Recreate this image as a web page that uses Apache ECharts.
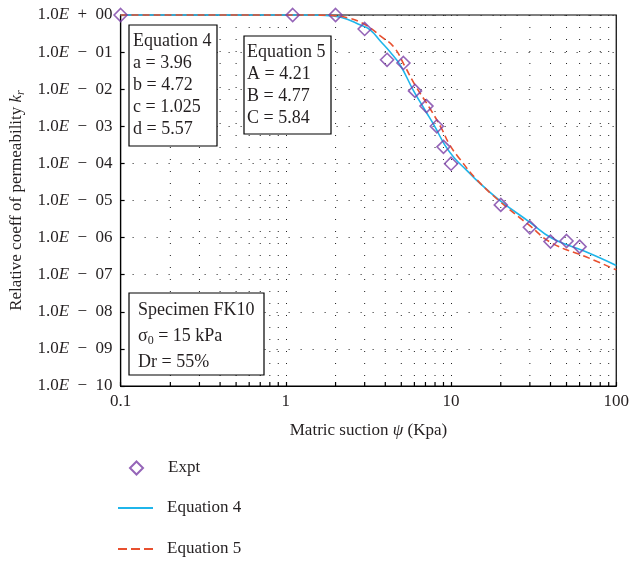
<!DOCTYPE html>
<html><head><meta charset="utf-8">
<script src="https://cdn.jsdelivr.net/npm/echarts@6/dist/echarts.min.js"></script>
<style>html,body{margin:0;padding:0;background:#fff}#c{width:632px;height:561px}</style>
</head><body><div id="c"></div>
<script>
// Experimental data
const exptX = [0.1, 1.1, 2, 3, 4.1, 5.15, 6.05, 7.1, 8.2, 9.0, 10.0, 20, 30, 40, 50, 60];
const exptY = [1, 1, 1, 0.42, 0.062, 0.051, 0.0090, 0.0035, 0.00100, 0.00028, 0.000098, 7.6e-6, 1.9e-6, 7.8e-7, 8.1e-7, 5.7e-7];
// Equation 4 curve
const eq4X = [0.1, 1, 1.24, 1.63, 2.15, 2.83, 3.25, 3.73, 4.28, 4.92, 5.90, 6.95, 7.98, 9.16, 10.5, 12.4, 14.2, 19.6, 29.6, 40.8, 64.9, 100];
const eq4Y = [1, 1, 1, 0.98, 0.867, 0.537, 0.394, 0.199, 0.1007, 0.0449, 0.0095, 0.00275, 9.8e-4, 3.16e-4, 1.38e-4, 6.6e-5, 3.6e-5, 1.03e-5, 2.7e-6, 9.6e-7, 4.2e-7, 1.78e-7];
// Equation 5 curve
const eq5X = [0.1, 1, 1.24, 1.87, 2.47, 2.83, 3.25, 3.73, 4.49, 5.27, 6.05, 7.44, 8.75, 9.81, 11.3, 14.2, 19.6, 29.6, 40.8, 64.9, 100];
const eq5Y = [1, 1, 1, 0.97, 0.805, 0.636, 0.447, 0.272, 0.140, 0.0404, 0.0130, 0.00306, 8.8e-4, 3.16e-4, 1.32e-4, 3.8e-5, 9.7e-6, 2.19e-6, 7.1e-7, 3.1e-7, 1.35e-7];
// Axis ticks
const xMinorTicks = [0.2,0.3,0.4,0.5,0.6,0.7,0.8,0.9,2,3,4,5,6,7,8,9,20,30,40,50,60,70,80,90];
const xTickLabels = {'-1':'0.1','0':'1','1':'10','2':'100'};

const FONT = 'Liberation Serif';
const TXT = '#231f20';
const PURPLE = '#7b3fa6';
const CYAN = '#1fb5ea';
const RED = '#e8502f';
const zip = (a, b) => a.map((v, i) => [v, b[i]]);

const chart = echarts.init(document.getElementById('c'), null, {renderer: 'canvas'});

function yLabel(v) {
  const e = Math.round(Math.log10(v));
  const sign = e < 0 ? '\u2212' : '+';
  const n = String(Math.abs(e)).padStart(2, '0');
  return '{n|1.0}{e|E}{n|\u2002' + sign + '\u2002' + n + '}';
}

const legendText = {fontFamily: FONT, fontSize: 17, color: TXT, lineHeight: 20};

chart.setOption({
  animation: false,
  backgroundColor: '#fff',
  grid: {left: 118, top: 15, right: 14, bottom: 175, show: true, borderColor: '#000', borderWidth: 1.2, backgroundColor: 'transparent'},
  xAxis: {
    type: 'log', logBase: 10, min: 0.1, max: 100, interval: 1,
    name: '{n|Matric suction }{i|\u03c8}{n| (Kpa)}',
    nameLocation: 'middle', nameGap: 36,
    nameTextStyle: {fontFamily: FONT, fontSize: 17, color: TXT, rich: {n: {fontFamily: FONT, fontSize: 17, color: TXT}, i: {fontFamily: FONT, fontSize: 17, color: TXT, fontStyle: 'italic'}}},
    axisLine: {lineStyle: {color: '#000', width: 1.2}},
    axisTick: {inside: true, length: 4, lineStyle: {color: '#000', width: 1.2}},
    axisLabel: {fontFamily: FONT, fontSize: 17, color: TXT, margin: 7,
      formatter: v => xTickLabels[String(Math.round(Math.log10(v)))] || ''},
    splitLine: {show: true, lineStyle: {color: '#222', width: 1, type: [1, 11]}}
  },
  yAxis: {
    type: 'log', logBase: 10, min: 1e-10, max: 1, interval: 1,
    name: '{n|Relative coeff of permeability }{i|k}{s|r}',
    nameLocation: 'middle', nameGap: 90,
    nameTextStyle: {fontFamily: FONT, fontSize: 17, color: TXT, rich: {
      n: {fontFamily: FONT, fontSize: 17, color: TXT},
      i: {fontFamily: FONT, fontSize: 17, color: TXT, fontStyle: 'italic'},
      s: {fontFamily: FONT, fontSize: 12, color: TXT, fontStyle: 'italic', padding: [8, 0, 0, 0]}}},
    axisLine: {lineStyle: {color: '#000', width: 1.2}},
    axisTick: {inside: true, length: 4, lineStyle: {color: '#000', width: 1.2}},
    axisLabel: {margin: 8, formatter: yLabel, rich: {
      n: {fontFamily: FONT, fontSize: 17, color: TXT},
      e: {fontFamily: FONT, fontSize: 17, color: TXT, fontStyle: 'italic'}}},
    splitLine: {show: true, lineStyle: {color: '#222', width: 1, type: [1, 11]}}
  },
  legend: [
    {orient: 'vertical', left: 129, top: 458, padding: 0, itemWidth: 13, itemHeight: 13,
      textStyle: Object.assign({padding: [0, 0, 0, 20]}, legendText),
      data: [{name: 'Expt', icon: 'path://M6,0L12,6L6,12L0,6Z'}]},
    {orient: 'vertical', left: 118, top: 498, padding: 0, itemWidth: 35, itemHeight: 2,
      textStyle: Object.assign({padding: [0, 0, 0, 9]}, legendText),
      data: [{name: 'Equation 4', icon: 'path://M0,0H35V2H0Z'}]},
    {orient: 'vertical', left: 118, top: 539, padding: 0, itemWidth: 35, itemHeight: 2,
      textStyle: Object.assign({padding: [0, 0, 0, 9]}, legendText),
      data: [{name: 'Equation 5', icon: 'path://M0,0h9v2h-9z M13,0h9v2h-9z M26,0h9v2h-9z'}]}
  ],
  graphic: [
    {type: 'rect', z: 50, shape: {x: 129, y: 25, width: 88, height: 121}, style: {fill: '#fff', stroke: '#000', lineWidth: 1.2}},
    {type: 'text', z: 51, x: 133, y: 30, style: {text: 'Equation 4\na = 3.96\nb = 4.72\nc = 1.025\nd = 5.57', fontFamily: FONT, fontSize: 18, lineHeight: 22, fill: TXT}},
    {type: 'rect', z: 50, shape: {x: 244, y: 36, width: 87, height: 98}, style: {fill: '#fff', stroke: '#000', lineWidth: 1.2}},
    {type: 'text', z: 51, x: 247, y: 41, style: {text: 'Equation 5\nA = 4.21\nB = 4.77\nC = 5.84', fontFamily: FONT, fontSize: 18, lineHeight: 22, fill: TXT}},
    {type: 'rect', z: 50, shape: {x: 129, y: 293, width: 135, height: 82}, style: {fill: '#fff', stroke: '#000', lineWidth: 1.2}},
    {type: 'text', z: 51, x: 138, y: 297, style: {
      text: '{t|Specimen FK10}\n{t|\u03c3}{s|0}{t| = 15 kPa}\n{t|Dr = 55%}',
      rich: {t: {fontFamily: FONT, fontSize: 18, lineHeight: 26, fill: TXT},
             s: {fontFamily: FONT, fontSize: 12, lineHeight: 26, fill: TXT, padding: [9, 0, 0, 0]}}}}
  ],
  series: [
    {type: 'custom', name: 'grid', silent: true, z: 1, clip: false,
      data: xMinorTicks.map(v => [v, 1e-10]), encode: {x: 0, y: 1},
      renderItem: function (params, api) {
        const x = api.value(0);
        const top = api.coord([x, 1]);
        const bot = api.coord([x, 1e-10]);
        return {type: 'group', children: [
          {type: 'line', shape: {x1: top[0], y1: top[1], x2: bot[0], y2: bot[1]}, style: {stroke: '#222', lineWidth: 1, lineDash: [1, 11]}},
          {type: 'line', shape: {x1: bot[0], y1: bot[1], x2: bot[0], y2: bot[1] - 4}, style: {stroke: '#000', lineWidth: 1.2}}
        ]};
      }},
    {type: 'line', name: 'Equation 4', data: zip(eq4X, eq4Y), symbol: 'none', smooth: 0.45, clip: false, z: 3,
      lineStyle: {color: CYAN, width: 1.6}, itemStyle: {color: CYAN}},
    {type: 'line', name: 'Equation 5', data: zip(eq5X, eq5Y), symbol: 'none', smooth: 0.45, clip: false, z: 4,
      lineStyle: {color: RED, width: 1.6, type: [7, 4]}, itemStyle: {color: RED}},
    {type: 'scatter', name: 'Expt', data: zip(exptX, exptY), symbol: 'diamond', symbolSize: 13, clip: false, z: 5,
      itemStyle: {color: 'rgba(255,255,255,0)', borderColor: PURPLE, borderWidth: 1.6}}
  ]
});
</script></body></html>
